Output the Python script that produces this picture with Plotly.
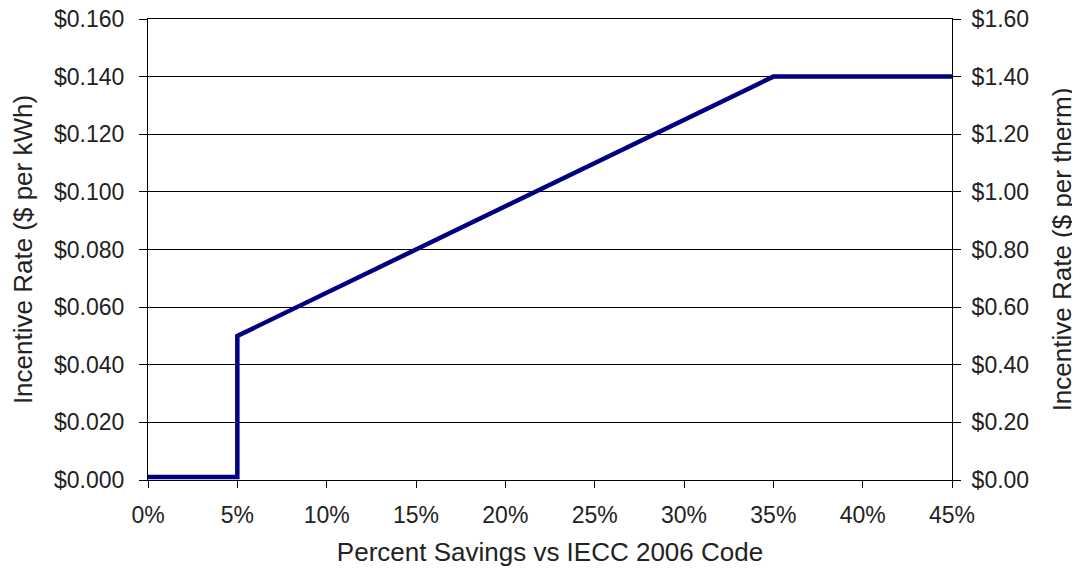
import plotly.graph_objects as go

# Data
savings_pct = [0, 5, 5, 35, 45]
rate_kwh = [0.001, 0.001, 0.05, 0.14, 0.14]
therm_factor = 10
rate_therm = [v * therm_factor for v in rate_kwh]

x_ticks = list(range(0, 50, 5))
x_tick_labels = [f"{v}%" for v in x_ticks]

family = "Liberation Sans, Arial, sans-serif"
font = dict(family=family, size=22, color="#222222")
tick_font = dict(family=family, size=23, color="#222222")

fig = go.Figure()
fig.add_trace(go.Scatter(x=savings_pct, y=rate_kwh, mode="lines",
                         line=dict(color="#000080", width=4.5), showlegend=False,
                         hoverinfo="skip"))
fig.add_trace(go.Scatter(x=savings_pct, y=rate_therm, mode="lines", yaxis="y2",
                         line=dict(color="rgba(0,0,0,0)", width=0), showlegend=False,
                         hoverinfo="skip"))

fig.update_layout(
    width=1072, height=569,
    margin=dict(l=140, r=128, t=11, b=97),
    paper_bgcolor="white", plot_bgcolor="white",
    font=font,
    xaxis=dict(range=[0, 45], tickvals=x_ticks, ticktext=x_tick_labels,
               tickfont=tick_font, ticklabeloverflow="allow",
               showgrid=False, zeroline=False, automargin=False,
               showline=True, linecolor="black", linewidth=1,
               mirror=True,
               ticks="outside", ticklen=7, tickcolor="black",
               ticklabelstandoff=7,
               title=dict(text="Percent Savings vs IECC 2006 Code", standoff=16)),
    yaxis=dict(range=[0, 0.16], dtick=0.02, tickprefix="$", tickformat=".3f",
               tickfont=tick_font, ticklabeloverflow="allow",
               showgrid=True, gridcolor="black", gridwidth=1, zeroline=False,
               automargin=False,
               showline=True, linecolor="black", linewidth=1,
               ticks="outside", ticklen=8, tickcolor="black",
               ticklabelstandoff=10,
               title=dict(text="Incentive Rate ($ per kWh)", standoff=18)),
    yaxis2=dict(range=[0, 1.6], dtick=0.2, tickprefix="$", tickformat=".2f",
                tickfont=tick_font, ticklabeloverflow="allow",
                overlaying="y", side="right", showgrid=False, zeroline=False,
                automargin=False,
                showline=True, linecolor="black", linewidth=1,
                ticks="outside", ticklen=8, tickcolor="black",
                ticklabelstandoff=6,
                title=dict(text="Incentive Rate ($ per therm)", standoff=24)),
)

fig.write_html("out.html")
